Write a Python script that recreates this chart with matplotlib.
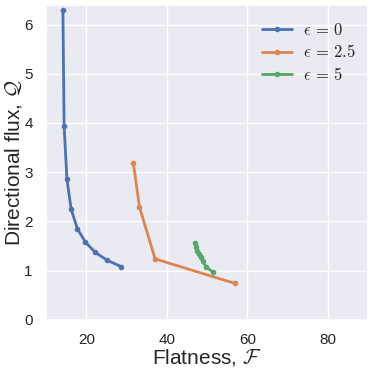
import numpy as np
import matplotlib
matplotlib.use('Agg')
import matplotlib.pyplot as plt
import seaborn as sns

sns.set_theme(style='darkgrid')
plt.rcParams['font.family'] = ['Liberation Sans', 'DejaVu Sans']
plt.rcParams['mathtext.fontset'] = 'cm'

flat_e0 = [14.2, 14.5, 15.2, 16.25, 17.8, 19.8, 22.25, 25.25, 28.75]
flux_e0 = [6.29, 3.93, 2.86, 2.25, 1.85, 1.58, 1.37, 1.21, 1.08]
flat_e25 = [31.7, 33.2, 37.1, 57.0]
flux_e25 = [3.19, 2.30, 1.24, 0.74]
flat_e5 = [47.0, 47.25, 47.6, 48.0, 48.4, 48.9, 49.75, 51.5]
flux_e5 = [1.56, 1.49, 1.40, 1.33, 1.27, 1.19, 1.08, 0.97]
labels = [r'$\epsilon\,{=}\,0$', r'$\epsilon\,{=}\,2.5$', r'$\epsilon\,{=}\,5$']

fig, ax = plt.subplots(figsize=(3.74, 3.72), dpi=100)
ax.plot(flat_e0, flux_e0, '.-', lw=2, ms=6, label=labels[0])
ax.plot(flat_e25, flux_e25, '.-', lw=2, ms=6, label=labels[1])
ax.plot(flat_e5, flux_e5, '.-', lw=2, ms=6, label=labels[2])
ax.set_xlim(10, 90)
ax.set_ylim(0, 6.4)
ax.set_xticks([20, 40, 60, 80])
ax.tick_params(labelsize=11)
ax.set_xlabel(r'Flatness, $\mathcal{F}$', fontsize=15, labelpad=0)
ax.set_ylabel(r'Directional flux, $\mathcal{Q}$', fontsize=15, labelpad=0)
ax.legend(frameon=False, fontsize=12, loc='upper right', handlelength=1.8,
          handletextpad=0.7, labelspacing=0.35, borderaxespad=0.7,
          bbox_to_anchor=(1.02, 1.005))
fig.subplots_adjust(left=0.123, right=0.984, top=0.987, bottom=0.14)
fig.savefig('out.png', dpi=100)
